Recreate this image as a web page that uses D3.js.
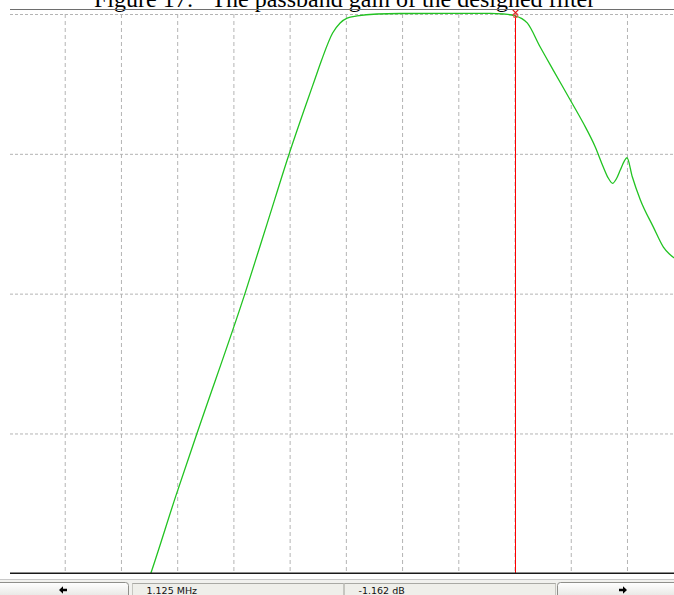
<!DOCTYPE html>
<html>
<head>
<meta charset="utf-8">
<script src="https://cdn.jsdelivr.net/npm/d3@7"></script>
<style>
  html, body { margin: 0; padding: 0; background: #fff; overflow: hidden; }
  svg { display: block; }
</style>
</head>
<body>
<svg id="chart" width="674" height="595"></svg>
<script>
// Frequency response of the band-pass filter (frequency in MHz, gain in dB)
const freqMHz = [0.3036, 0.3163, 0.3726, 0.4193, 0.5260, 0.5750, 0.6239, 0.6650, 0.6806,
  0.6962, 0.7206, 0.7373, 0.7529, 0.7751, 0.8196, 0.8707, 0.9819, 1.0709, 1.0998, 1.125,
  1.1532, 1.1821, 1.2110, 1.2489, 1.2778, 1.3045, 1.3223, 1.3334, 1.3430, 1.3512, 1.3601,
  1.3690, 1.3750, 1.3870, 1.4048, 1.4337, 1.4560, 1.4693, 1.4804, 1.5027];
const gainDb = [-412, -400.1, -344.1, -299.7, -199.6, -149.9, -100.1, -61.5, -47.2,
  -32.9, -13.6, -6.4, -2.9, -1.4, 0, 0.36, 0.5, 0.5, 0, -1.162,
  -6.4, -23.6, -40.1, -61.5, -78.0, -95.1, -109.4, -117.3, -121.1, -118.0, -111.6,
  -105.2, -102.8, -116.6, -133.0, -152.4, -166.7, -171.7, -174.5, -176.7];

// Grid divisions
const freqTicks = d3.range(0, 1.5001, 0.125);
const gainTicks = [0, -100, -200, -300, -400];

// Cursor readout
const markerFreq = 1.125;
const markerGain = -1.162;
const markerFreqLabel = "1.125 MHz";
const markerGainLabel = "-1.162 dB";

const titleText = "Figure 17:\u00a0\u00a0\u00a0The passband gain of the designed filter";

const svg = d3.select("#chart");
const W = 674, H = 595;
const plot = { left: 8.5, right: 683.2, top: 14, bottom: 573.3 };

const x = d3.scaleLinear().domain([0, 1.5]).range([plot.left, plot.right]);
const y = d3.scaleLinear().domain([-400, 0]).range([plot.bottom, plot.top]);

const defs = svg.append("defs");
defs.append("clipPath").attr("id", "plotClip")
  .append("rect")
  .attr("x", 9).attr("y", 10)
  .attr("width", W - 9).attr("height", plot.bottom - 10);

// Caption sitting above the plot frame (its upper part runs off the page)
svg.append("text")
  .attr("x", 94).attr("y", 7)
  .attr("font-family", "'Liberation Serif', 'Times New Roman', serif")
  .attr("font-size", 24)
  .attr("fill", "#000")
  .text(titleText);

// Frame line above the plot
svg.append("line")
  .attr("x1", 10).attr("x2", W)
  .attr("y1", 9.5).attr("y2", 9.5)
  .attr("stroke", "#6e6e6e").attr("stroke-width", 1);

// Grid via axes with full-length ticks
const gridV = svg.append("g")
  .attr("transform", `translate(0,${plot.top})`)
  .call(d3.axisBottom(x).tickValues(freqTicks.filter(d => d > 0))
    .tickSize(plot.bottom - plot.top).tickFormat(""));
gridV.select(".domain").remove();
gridV.selectAll(".tick line")
  .attr("stroke", "#b4b4b4").attr("stroke-dasharray", "4,3");

const gridH = svg.append("g")
  .attr("transform", `translate(10,0)`)
  .call(d3.axisRight(y).tickValues(gainTicks.filter(d => d > -400))
    .tickSize(W - 10).tickFormat(""));
gridH.select(".domain").remove();
gridH.selectAll(".tick line")
  .attr("stroke", "#b4b4b4").attr("stroke-dasharray", "3,2");

// Response curve
const line = d3.line()
  .x((d, i) => x(freqMHz[i]))
  .y((d, i) => y(gainDb[i]))
  .curve(d3.curveMonotoneX);

svg.append("path")
  .datum(freqMHz)
  .attr("clip-path", "url(#plotClip)")
  .attr("d", line)
  .attr("fill", "none")
  .attr("stroke", "#22c322")
  .attr("stroke-width", 1.3);

// Cursor line and marker
const mx = Math.round(x(markerFreq)) + 0.5;
const my = y(markerGain);
svg.append("line")
  .attr("x1", mx).attr("x2", mx)
  .attr("y1", my).attr("y2", plot.bottom)
  .attr("stroke", "#ff0000").attr("stroke-width", 1);
svg.append("path")
  .attr("transform", `translate(${mx},${my - 3})`)
  .attr("d", d3.symbol(d3.symbolTimes, 22)())
  .attr("fill", "none").attr("stroke", "#e01010").attr("stroke-width", 1.2);
svg.append("path")
  .attr("transform", `translate(${mx},${my})`)
  .attr("d", d3.symbol(d3.symbolSquare2, 16)())
  .attr("fill", "none").attr("stroke", "#e85050").attr("stroke-width", 1);

// Bottom axis line
svg.append("line")
  .attr("x1", 10).attr("x2", W)
  .attr("y1", plot.bottom).attr("y2", plot.bottom)
  .attr("stroke", "#1a1a1a").attr("stroke-width", 1.6);

// Status bar with navigation buttons and cursor readouts
const bar = svg.append("g");
bar.append("rect").attr("x", 0).attr("y", 579.5).attr("width", W).attr("height", 16)
  .attr("fill", "#f1f1ee");
bar.append("line").attr("x1", 0).attr("x2", W).attr("y1", 579.5).attr("y2", 579.5)
  .attr("stroke", "#c8c8c8");

const grad = defs.append("linearGradient")
  .attr("id", "btnGrad").attr("x1", 0).attr("x2", 0).attr("y1", 0).attr("y2", 1);
grad.append("stop").attr("offset", "0%").attr("stop-color", "#ffffff");
grad.append("stop").attr("offset", "100%").attr("stop-color", "#e4e4e0");

// Heavy arrow icon pointing right; mirrored for the left button
const arrowPath = "M-4,-1.3 L0,-1.3 L0,-3.8 L4,0 L0,3.8 L0,1.3 L-4,1.3 Z";

const buttons = [
  { x0: -3, x1: 128.5, cx: 63, dir: -1 },
  { x0: 557.5, x1: 677, cx: 623, dir: 1 }
];
buttons.forEach(b => {
  bar.append("rect")
    .attr("x", b.x0).attr("y", 582.5)
    .attr("width", b.x1 - b.x0).attr("height", 16)
    .attr("rx", 3)
    .attr("fill", "url(#btnGrad)")
    .attr("stroke", "#8f8f8a");
  bar.append("path")
    .attr("transform", `translate(${b.cx},${590}) scale(${b.dir},1)`)
    .attr("d", arrowPath)
    .attr("fill", "#000");
});

const fields = [
  { x0: 132.5, x1: 343.5, label: markerFreqLabel },
  { x0: 344.5, x1: 555.5, label: markerGainLabel }
];
fields.forEach(f => {
  bar.append("rect")
    .attr("x", f.x0).attr("y", 583.5)
    .attr("width", f.x1 - f.x0).attr("height", 14)
    .attr("fill", "#efefea")
    .attr("stroke", "#c6c6c0");
  bar.append("line")
    .attr("x1", f.x0).attr("x2", f.x1).attr("y1", 583.5).attr("y2", 583.5)
    .attr("stroke", "#a9a9a4");
  bar.append("text")
    .attr("x", f.x0 + 14).attr("y", 594)
    .attr("font-family", "'DejaVu Sans', Tahoma, sans-serif")
    .attr("font-size", 9.5)
    .attr("fill", "#111")
    .text(f.label);
});
</script>
</body>
</html>
